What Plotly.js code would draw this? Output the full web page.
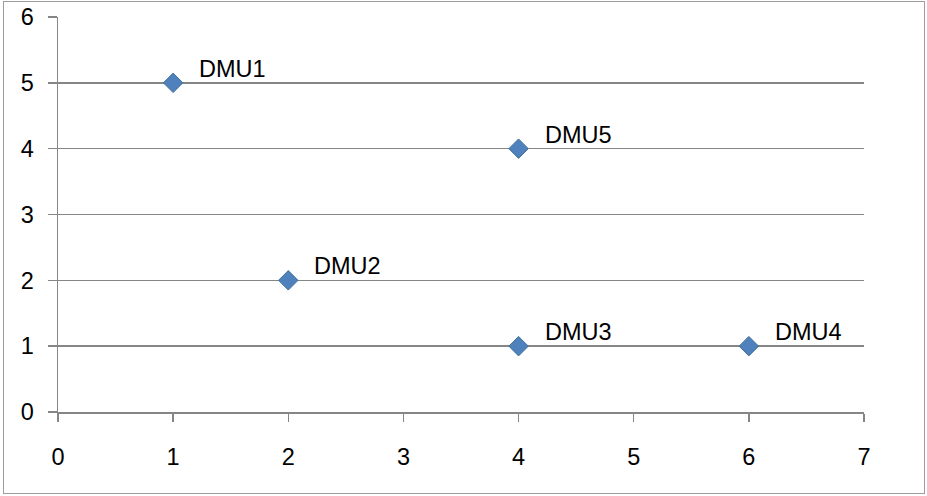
<!DOCTYPE html>
<html>
<head>
<meta charset="utf-8">
<script src="https://cdn.plot.ly/plotly-3.0.1.min.js"></script>
<style>
html,body{margin:0;padding:0;background:#fff;}
#wrap{position:relative;width:927px;height:496px;}
#chart{width:927px;height:496px;}
#frame{position:absolute;left:3px;top:1px;width:920px;height:491px;border:1.5px solid #9c9c9c;pointer-events:none;}
</style>
</head>
<body>
<div id="wrap"><div id="chart"></div><div id="frame"></div></div>
<script>
const names = ["DMU1","DMU2","DMU3","DMU4","DMU5"];
const xVals = [1,2,4,6,4];
const yVals = [5,2,1,1,4];

const FONT = {family:"Liberation Sans, Arial, sans-serif", size:23.5, color:"#000"};

const trace = {
  x: xVals, y: yVals, mode:"markers", type:"scatter",
  marker:{symbol:"diamond", size:15, color:"#4f81bd", line:{color:"#41719c", width:1}},
  hoverinfo:"skip", showlegend:false
};

const annotations = names.map((n,i)=>({
  x:xVals[i], y:yVals[i], xref:"x", yref:"y", text:n, showarrow:false,
  xanchor:"left", yanchor:"middle", xshift:24, yshift:14, font:FONT
}));

const layout = {
  width:927, height:496,
  margin:{l:58, r:63, t:17, b:84},
  paper_bgcolor:"#fff", plot_bgcolor:"#fff",
  font:FONT,
  xaxis:{range:[0,7], tickvals:[0,1,2,3,4,5,6,7], showgrid:false, zeroline:false,
    showline:true, linecolor:"#868686", linewidth:1.5, ticks:"outside", ticklen:8, tickcolor:"#868686", tickwidth:1.5,
    ticklabelstandoff:15, fixedrange:true},
  yaxis:{range:[0,6], tickvals:[0,1,2,3,4,5,6], showgrid:true, gridcolor:"#868686", gridwidth:1.5, zeroline:false,
    showline:true, linecolor:"#868686", linewidth:1.5, ticks:"outside", ticklen:9, tickcolor:"#868686", tickwidth:1.5,
    ticklabelstandoff:9, fixedrange:true},
  annotations: annotations
};

Plotly.newPlot("chart",[trace],layout,{displayModeBar:false, staticPlot:true});
</script>
</body>
</html>
